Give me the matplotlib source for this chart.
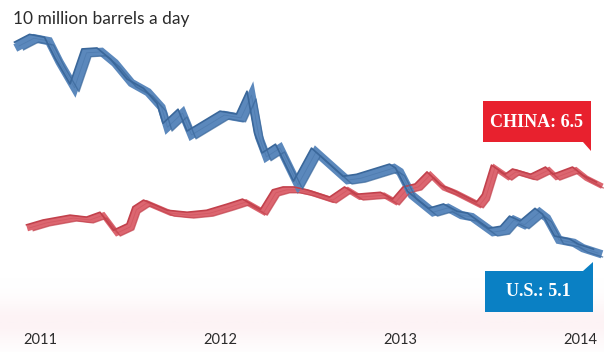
#!/usr/bin/env python
"""
Crude oil imports, U.S. vs. China, 2011-2014 (million barrels a day),
drawn as two twisted ribbons. Saves out.png.
"""
import matplotlib
matplotlib.use('Agg')  # noqa: E402
import matplotlib.pyplot as plt
from matplotlib.patches import Polygon

import numpy as np

# months since Jan 2011
us_month = [-1.7, -0.7, 0.3, 1.0, 2.0, 2.8, 3.8, 4.7, 5.8, 6.9, 7.8, 8.2, 9.2,
            9.8, 12.0, 13.1, 13.8, 14.3, 14.8, 15.7, 16.9, 18.1, 20.2, 21.1,
            23.3, 23.7, 24.5, 25.9, 26.9, 27.8, 28.5, 29.9, 30.7, 31.3, 32.0,
            33.0, 33.5, 34.3, 35.3, 35.9, 36.9]
us_value = [9.36, 9.52, 9.46, 9.03, 8.50, 9.22, 9.24, 9.01, 8.60, 8.41, 8.10,
            7.69, 7.98, 7.53, 7.94, 7.88, 8.35, 7.49, 7.08, 7.26, 6.50, 7.18,
            6.60, 6.64, 6.85, 6.77, 6.29, 5.94, 6.03, 5.88, 5.84, 5.53, 5.57,
            5.78, 5.68, 5.94, 5.82, 5.37, 5.31, 5.20, 5.10]

china_month = [-0.9, 0.2, 2.0, 3.1, 4.0, 4.9, 5.8, 6.2, 6.9, 8.5, 9.8, 11.1,
               12.5, 13.5, 14.7, 15.5, 16.2, 16.9, 17.8, 19.3, 20.3, 21.1,
               22.7, 23.5, 24.2, 25.0, 25.8, 26.7, 27.5, 29.1, 29.5, 30.1,
               31.0, 31.5, 32.7, 33.7, 34.2, 35.5, 36.2, 37.1]
china_value = [5.62, 5.72, 5.82, 5.78, 5.88, 5.51, 5.64, 5.99, 6.13, 5.92,
               5.88, 5.92, 6.05, 6.15, 5.94, 6.34, 6.40, 6.40, 6.34, 6.19,
               6.40, 6.25, 6.29, 6.15, 6.40, 6.46, 6.71, 6.44, 6.34, 6.09,
               6.25, 6.85, 6.66, 6.77, 6.66, 6.81, 6.66, 6.81, 6.64, 6.50]

year_ticks = [0, 12, 24, 36]
year_labels = ['2011', '2012', '2013', '2014']

title = "10 million barrels a day"
china_label = "CHINA: 6.5"
us_label = "U.S.: 5.1"

W, H = 604, 352


def ribbon(ax, x, y, face, edge, lw=5, half=0.07, shift=0.5):
    """Draw a line as a slanted ribbon: a thick band plus a top edge and a
    bottom edge shifted right and down, so the band looks twisted."""
    x = np.asarray(x, float)
    y = np.asarray(y, float)
    ax.plot(x + shift / 2, y, color=face, lw=lw, solid_joinstyle='miter',
            zorder=2)
    top = np.column_stack([x, y + half])
    bot = np.column_stack([x + shift, y - half])[::-1]
    ax.add_patch(Polygon(np.vstack([top, bot]), closed=True, facecolor=face,
                         edgecolor='none', zorder=2))
    ax.plot(x, y + half, color=edge, lw=1.2, zorder=3)
    ax.plot(x + shift, y - half, color=edge, lw=1.0, alpha=0.7, zorder=3)
    # the fold in the middle of the band
    ax.plot(x + shift / 2, y, color=edge, lw=0.6, alpha=0.35, zorder=3)


def px(x, y):
    """pixel position -> figure fraction"""
    return x / W, 1 - y / H


fig = plt.figure(figsize=(W / 100, H / 100), dpi=100)
fig.patch.set_facecolor('white')
ax = fig.add_axes([0, 0, 1, 1])
ax.set_xlim(-2.667, 37.6)
ax.set_ylim(3.064, 10.307)
ax.axis('off')

# very faint pink haze in the lower part
grad = np.linspace(0, 1, 100).reshape(-1, 1)
ax.imshow(np.exp(-((grad - 0.4) / 0.3) ** 2), extent=(-2.667, 37.6, 3.064, 4.6),
          cmap=matplotlib.colors.LinearSegmentedColormap.from_list(
              'haze', ['#ffffff', '#fdf3f5']),
          aspect='auto', origin='lower', zorder=0)

ribbon(ax, china_month, china_value, '#dc6670', '#c2414c', lw=4,
       half=0.06, shift=0.45)
ribbon(ax, us_month, us_value, '#5b88bc', '#3a679a', lw=6,
       half=0.08, shift=0.6)

fig.text(*px(13, 19), title, fontsize=12.5, family='Lato',
         color='#2b2b2b', va='center', ha='left')

for m, lab in zip(year_ticks, year_labels):
    ax.text(m, 3.064 + 12 / 48.6, lab, fontsize=10.5, family='Lato',
            color='#2b2b2b', ha='center', va='center')

# label boxes with little pointers
china_box = [(483, 101), (591, 101), (591, 151), (583, 142), (483, 142)]
fig.patches.append(Polygon([px(*p) for p in china_box], closed=True,
                           transform=fig.transFigure, facecolor='#e8212e',
                           edgecolor='none', zorder=5))
fig.text(*px(537, 122), china_label, fontsize=13, family='Liberation Serif',
         weight='bold', color='white', ha='center', va='center', zorder=6)

us_box = [(485, 271), (583, 271), (593, 262), (593, 312), (485, 312)]
fig.patches.append(Polygon([px(*p) for p in us_box], closed=True,
                           transform=fig.transFigure, facecolor='#0a80c4',
                           edgecolor='none', zorder=5))
fig.text(*px(538, 292), us_label, fontsize=13, family='Liberation Serif',
         weight='bold', color='white', ha='center', va='center', zorder=6)

fig.savefig('out.png', dpi=100)
